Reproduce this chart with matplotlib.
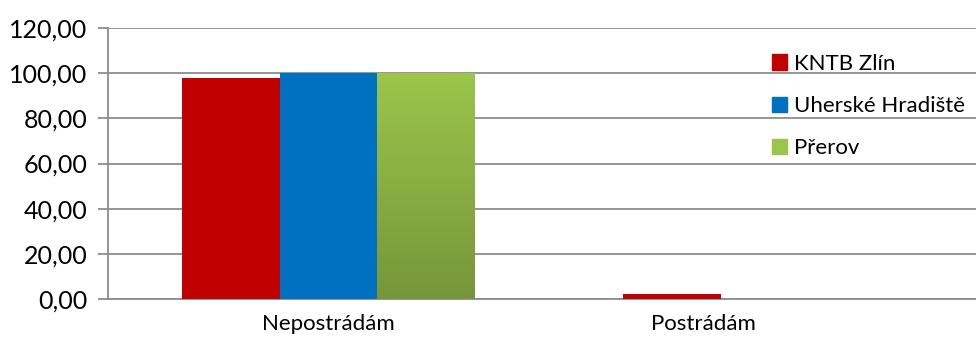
import matplotlib
matplotlib.use('Agg')
import matplotlib.pyplot as plt
import numpy as np
from matplotlib.patches import Patch
from matplotlib.colors import LinearSegmentedColormap

plt.rcParams['font.family'] = ['Lato', 'DejaVu Sans']

categories = ['Nepostrádám', 'Postrádám']
series_names = ['KNTB Zlín', 'Uherské Hradiště', 'Přerov']
kntb = [97.8, 2.2]
uh = [100.0, 0.0]
prerov = [100.0, 0.0]
colors = ['#C00000', '#0070C0', '#9BC54B']

fig = plt.figure(figsize=(9.76, 3.38), dpi=100)
ax = fig.add_axes([108 / 976, 39 / 338, 882 / 976, 271 / 338])

x = np.arange(len(categories))
w = 0.221
green_cmap = LinearSegmentedColormap.from_list('g', ['#9BC54B', '#77963A'])
for i, (vals, c) in enumerate(zip([kntb, uh, prerov], colors)):
    bars = ax.bar(x + (i - 1) * w, vals, w, color=c, zorder=3, linewidth=0)
    if i == 2:
        # gradient fill for the green series
        for b in bars:
            if b.get_height() <= 0:
                continue
            b.set_alpha(0)
            grad = np.linspace(0, 1, 100).reshape(-1, 1)
            ax.imshow(grad, cmap=green_cmap, aspect='auto', zorder=3,
                      extent=[b.get_x(), b.get_x() + b.get_width(), 0, b.get_height()])

ax.set_xlim(-0.5, 1.5)
ax.set_ylim(0, 120)
ax.set_yticks(np.arange(0, 121, 20))
ax.yaxis.set_major_formatter(plt.FuncFormatter(lambda v, p: f'{v:.2f}'.replace('.', ',')))
ax.grid(axis='y', color='#8C8C8C', linewidth=1.3, zorder=0)
for s in ['top', 'right']:
    ax.spines[s].set_visible(False)
for s in ['left', 'bottom']:
    ax.spines[s].set_color('#8C8C8C')
    ax.spines[s].set_linewidth(1.3)
ax.tick_params(axis='y', length=7, width=1.3, color='#8C8C8C', labelsize=18, pad=8)
ax.set_xticks([0, 0.85])
ax.set_xticklabels(categories, fontsize=16)
ax.tick_params(axis='x', length=0, pad=11)

handles = [Patch(color=c) for c in colors]
fig.legend(handles, series_names, loc='upper left', bbox_to_anchor=(763 / 976, 1 - 45 / 338),
           frameon=False, fontsize=16, handlelength=0.7, handleheight=0.7,
           handletextpad=0.3, labelspacing=1.0, borderaxespad=0)

fig.savefig('out.png', dpi=100)
